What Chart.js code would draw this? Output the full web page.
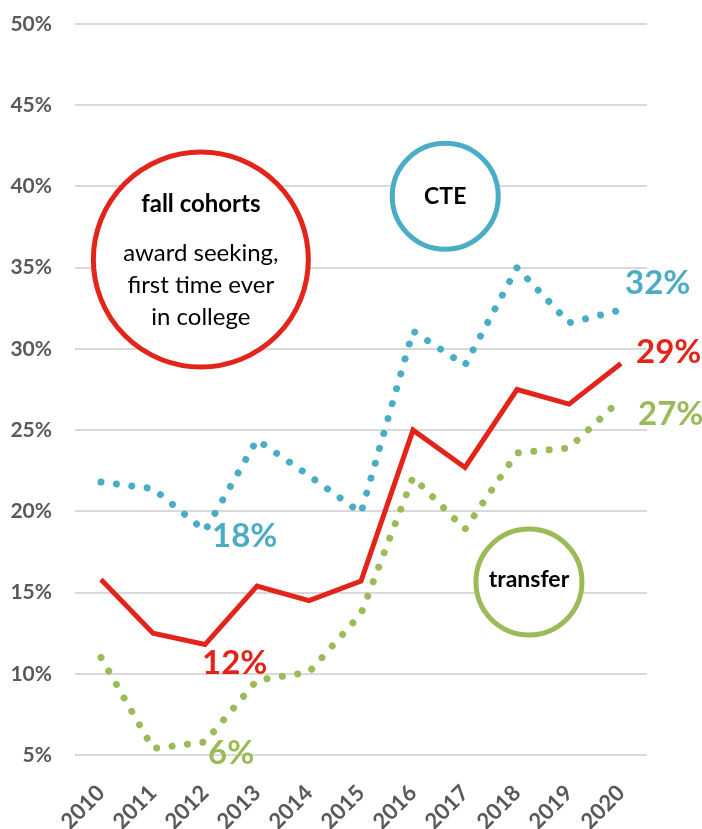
<!DOCTYPE html>
<html>
<head>
<meta charset="utf-8">
<script src="https://cdn.jsdelivr.net/npm/chart.js@4.4.1/dist/chart.umd.min.js"></script>
<style>
  html, body { margin: 0; padding: 0; background: #fff; }
</style>
</head>
<body>
<canvas id="rateChart" width="702" height="829"></canvas>
<script>
// Data
const years = ['2010', '2011', '2012', '2013', '2014', '2015', '2016', '2017', '2018', '2019', '2020'];
const allRate = [15.8, 12.5, 11.8, 15.4, 14.5, 15.7, 25.0, 22.7, 27.5, 26.6, 29.1];
const cteRate = [21.8, 21.4, 18.8, 24.4, 22.2, 19.9, 31.1, 29.0, 35.0, 31.6, 32.4];
const transferRate = [11.0, 5.4, 5.8, 9.6, 10.1, 13.7, 22.1, 18.9, 23.6, 23.9, 26.9];
const yTicks = [5, 10, 15, 20, 25, 30, 35, 40, 45, 50];

const RED = '#E3241B';
const BLUE = '#4BACC6';
const GREEN = '#9BBB59';
const GREY = '#595959';
const FONT = 'Lato, "Open Sans", sans-serif';

// Callout circles, placed in data units (x = year index, y = percent)
const callouts = [
  { x: 1.92, y: 35.5, r: 107.5, color: RED, lines: [
    { text: 'fall cohorts', bold: true, dy: -55 },
    { text: 'award seeking,', dy: -6 },
    { text: 'first time ever', dy: 26 },
    { text: 'in college', dy: 58 }
  ] },
  { x: 6.62, y: 39.4, r: 53, color: BLUE, lines: [{ text: 'CTE', bold: true, dy: 0 }] },
  { x: 8.23, y: 15.65, r: 53, color: GREEN, lines: [{ text: 'transfer', bold: true, dy: -2 }] }
];

// Value labels hung off a data point (series, index) with a pixel nudge
const valueLabels = [
  { series: cteRate, i: 10, text: '32%', color: BLUE, dx: 4, dy: -28 },
  { series: allRate, i: 10, text: '29%', color: RED, dx: 15, dy: -13 },
  { series: transferRate, i: 10, text: '27%', color: GREEN, dx: 17, dy: 14 },
  { series: cteRate, i: 2, text: '18%', color: BLUE, dx: 7, dy: 4 },
  { series: allRate, i: 2, text: '12%', color: RED, dx: -3, dy: 17 },
  { series: transferRate, i: 2, text: '6%', color: GREEN, dx: 3, dy: 10 }
];

const annotate = {
  id: 'annotate',
  afterDatasetsDraw(chart) {
    const { ctx, scales: { x, y } } = chart;
    ctx.save();
    callouts.forEach(c => {
      const cx = x.getPixelForValue(c.x);
      const cy = y.getPixelForValue(c.y);
      ctx.beginPath();
      ctx.arc(cx, cy, c.r, 0, Math.PI * 2);
      ctx.fillStyle = '#fff';
      ctx.fill();
      ctx.lineWidth = 5;
      ctx.strokeStyle = c.color;
      ctx.stroke();
      ctx.fillStyle = '#000';
      ctx.textAlign = 'center';
      ctx.textBaseline = 'middle';
      c.lines.forEach(l => {
        ctx.font = (l.bold ? 'bold ' : '') + (c.r > 80 ? '24px ' : '23px ') + FONT;
        ctx.fillText(l.text, cx, cy + l.dy);
      });
    });
    ctx.font = 'bold 33px ' + FONT;
    ctx.textAlign = 'left';
    ctx.textBaseline = 'alphabetic';
    valueLabels.forEach(v => {
      const px = x.getPixelForValue(v.i);
      const py = y.getPixelForValue(v.series[v.i]);
      ctx.fillStyle = v.color;
      ctx.fillText(v.text, px + v.dx, py + v.dy + 12);
    });
    ctx.restore();
  }
};

const dotted = {
  borderDash: [0.001, 15.5],
  borderCapStyle: 'round',
  borderWidth: 7
};

new Chart(document.getElementById('rateChart'), {
  type: 'line',
  data: {
    labels: years,
    datasets: [
      { label: 'all', data: allRate, borderColor: RED, borderWidth: 5, borderJoinStyle: 'miter', order: 0 },
      { label: 'CTE', data: cteRate, borderColor: BLUE, ...dotted, order: 1 },
      { label: 'transfer', data: transferRate, borderColor: GREEN, ...dotted, order: 2 }
    ]
  },
  options: {
    responsive: false,
    animation: false,
    events: [],
    layout: { padding: { top: 24, right: 55, left: 0, bottom: 0 } },
    elements: { point: { radius: 0 }, line: { tension: 0 } },
    plugins: { legend: { display: false }, tooltip: { enabled: false } },
    scales: {
      x: {
        offset: true,
        grid: { display: false },
        border: { display: false },
        ticks: {
          color: GREY,
          font: { family: FONT, size: 22, weight: 'bold' },
          minRotation: 45,
          maxRotation: 45,
          padding: 17
        },
        afterFit(scale) { scale.height = 74; }
      },
      y: {
        min: 5,
        max: 50,
        afterBuildTicks(scale) { scale.ticks = yTicks.map(v => ({ value: v })); },
        grid: { color: '#D9D9D9', lineWidth: 2, drawTicks: false },
        border: { display: false },
        ticks: {
          color: GREY,
          padding: 23,
          font: { family: FONT, size: 21, weight: 'bold' },
          callback: v => v + '%'
        },
        afterFit(scale) {
          scale.width = 75;
          scale.paddingTop = 0;
          scale.paddingBottom = 0;
        }
      }
    }
  },
  plugins: [annotate]
});
</script>
</body>
</html>
